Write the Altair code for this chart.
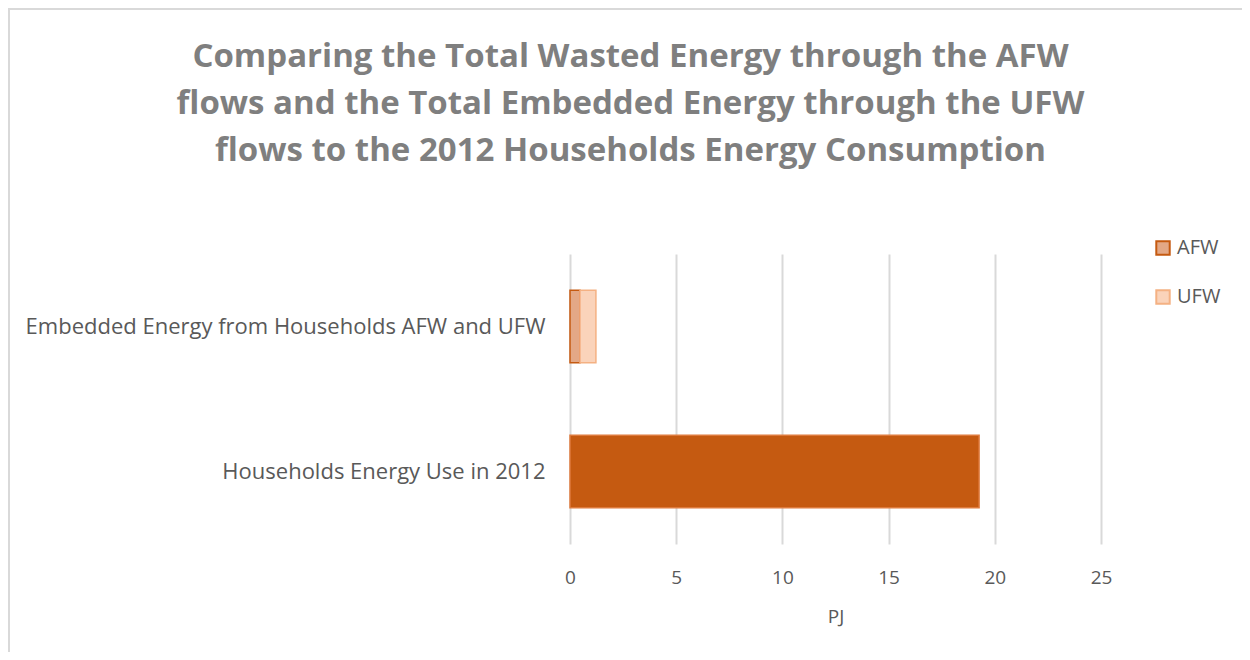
import altair as alt
import pandas as pd

categories = ["Embedded Energy from Households AFW and UFW",
              "Embedded Energy from Households AFW and UFW",
              "Households Energy Use in 2012"]
series = ["AFW", "UFW", "AFW"]
tones = ["AFW", "UFW", "AFW total"]
values = [0.47, 0.75, 19.26]
stack_order = [0, 1, 0]

df = pd.DataFrame({"category": categories, "series": series, "tone": tones,
                   "value": values, "order": stack_order})

cat_order = ["Embedded Energy from Households AFW and UFW", "Households Energy Use in 2012"]
tone_domain = ["AFW", "UFW", "AFW total"]
FONT = "Open Sans"
GRAY = "#595959"

legend = alt.Legend(title=None, values=["AFW", "UFW"], orient="none", legendX=583, legendY=-16,
                    symbolType="square", symbolSize=180, symbolStrokeWidth=2,
                    labelFontSize=20, labelColor=GRAY, labelFont=FONT, rowPadding=27,
                    labelOffset=4)

bars = alt.Chart(df).mark_bar(strokeWidth=1.5).encode(
    x=alt.X("value:Q", stack="zero", title="PJ",
            scale=alt.Scale(domain=[0, 25], nice=False),
            axis=alt.Axis(values=[0, 5, 10, 15, 20, 25], labelFontSize=19, labelColor=GRAY,
                          labelFont=FONT, domain=False, ticks=False, gridColor="#D9D9D9",
                          gridWidth=2, labelPadding=24, labelFlush=False, titleFontSize=19,
                          titleColor=GRAY, titleFont=FONT, titleFontWeight="normal",
                          titlePadding=20)),
    y=alt.Y("category:N", sort=cat_order, title=None,
            scale=alt.Scale(paddingInner=0.5, paddingOuter=0.25),
            axis=alt.Axis(labelFontSize=22, labelColor=GRAY, labelFont=FONT, domain=False,
                          ticks=False, labelPadding=25, labelLimit=600)),
    fill=alt.Fill("tone:N", scale=alt.Scale(domain=tone_domain,
                                            range=["#E3A886", "#FAD3BA", "#C55A11"]),
                  legend=legend),
    stroke=alt.Stroke("tone:N", scale=alt.Scale(domain=tone_domain,
                                                range=["#C55A11", "#F4B183", "#DE7A3C"]),
                      legend=legend),
    order=alt.Order("order:Q"),
)

frame = alt.Chart(alt.Data(values=[{}])).mark_rect(fill=None, stroke="#D9D9D9", strokeWidth=2).encode(
    x=alt.value(-561), x2=alt.value(679), y=alt.value(-245), y2=alt.value(420)
)

chart = alt.layer(frame, bars).properties(
    width=531, height=290,
    title=alt.TitleParams(
        ["Comparing  the Total Wasted Energy through the AFW",
         "flows and the Total Embedded Energy through the UFW",
         "flows to the 2012 Households Energy Consumption"],
        anchor="middle", frame="group", dx=-205, offset=-160, fontSize=33, lineHeight=47,
        font="Open Sans", fontWeight="bold", color="#7F7F7F"),
    autosize=alt.AutoSizeParams(type="none"),
    padding={"left": 562, "top": 246, "right": 141, "bottom": 108},
).configure_view(stroke=None)

chart.save("out.html", embed_options={"renderer": "svg", "actions": False})
